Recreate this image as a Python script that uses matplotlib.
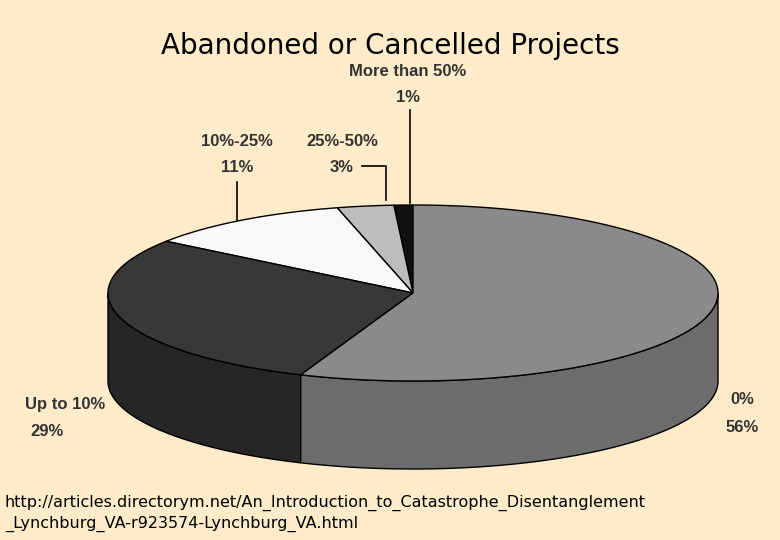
import numpy as np
import matplotlib.pyplot as plt
from matplotlib.patches import Polygon

labels = ["More than 50%", "25%-50%", "10%-25%", "Up to 10%", "0%"]
values = [1, 3, 11, 29, 56]
top_colors = ["#111111", "#bdbdbd", "#f8f8f8", "#383838", "#8a8a8a"]
side_colors = ["#080808", "#9a9a9a", "#d8d8d8", "#262626", "#6c6c6c"]

cx, cy, rx, ry, depth = 413, 293, 305, 88, 88

fig = plt.figure(figsize=(7.8, 5.4), dpi=100)
fig.patch.set_facecolor("#fdebc9")
ax = fig.add_axes([0, 0, 1, 1])
ax.set_xlim(0, 780)
ax.set_ylim(540, 0)
ax.axis("off")


def pt(t, dy=0):
    return cx + rx * np.cos(t), cy - ry * np.sin(t) + dy


bounds = np.cumsum([0] + values) / sum(values) * 2 * np.pi + np.pi / 2

# sides (front half: angles pi..2pi)
for i in range(len(values)):
    a0, a1 = bounds[i], bounds[i + 1]
    for off in (0, 2 * np.pi, -2 * np.pi):
        s, e = max(a0 + off, np.pi), min(a1 + off, 2 * np.pi)
        if e > s:
            t = np.linspace(s, e, 100)
            x, y = pt(t)
            xs = np.concatenate([x, x[::-1]])
            ys = np.concatenate([y, (y + depth)[::-1]])
            ax.add_patch(Polygon(np.column_stack([xs, ys]), fc=side_colors[i],
                                 ec="black", lw=1, zorder=1))

# top faces
for i in range(len(values)):
    t = np.linspace(bounds[i], bounds[i + 1], 200)
    x, y = pt(t)
    xs = np.concatenate([[cx], x])
    ys = np.concatenate([[cy], y])
    ax.add_patch(Polygon(np.column_stack([xs, ys]), fc=top_colors[i],
                         ec="black", lw=1, zorder=2))

lab = dict(fontsize=12, color="#333333", ha="center", va="center", fontweight="bold",
           family="Liberation Sans")
ax.text(408, 72, labels[0], **lab)
ax.text(408, 98, f"{values[0]}%", **lab)
ax.plot([410, 410], [110, 203], color="black", lw=1.2, zorder=3)
ax.text(342, 142, labels[1], **lab)
ax.text(342, 168, f"{values[1]}%", **lab)
ax.plot([362, 386, 386], [166, 166, 200], color="black", lw=1.2, zorder=3)
ax.text(237, 142, labels[2], **lab)
ax.text(237, 168, f"{values[2]}%", **lab)
ax.plot([237, 237], [182, 220], color="black", lw=1.2, zorder=3)
ax.text(65, 405, labels[3], **lab)
ax.text(47, 432, f"{values[3]}%", **lab)
ax.text(742, 400, labels[4], **lab)
ax.text(742, 427, f"{values[4]}%", **lab)

ax.text(390, 46, "Abandoned or Cancelled Projects", fontsize=20, ha="center", va="center",
        color="black")
ax.text(5, 503, "http://articles.directorym.net/An_Introduction_to_Catastrophe_Disentanglement",
        fontsize=11.5, va="center", color="black")
ax.text(5, 524, "_Lynchburg_VA-r923574-Lynchburg_VA.html", fontsize=11.5, va="center",
        color="black")

fig.savefig("out.png", dpi=100, facecolor=fig.get_facecolor())
